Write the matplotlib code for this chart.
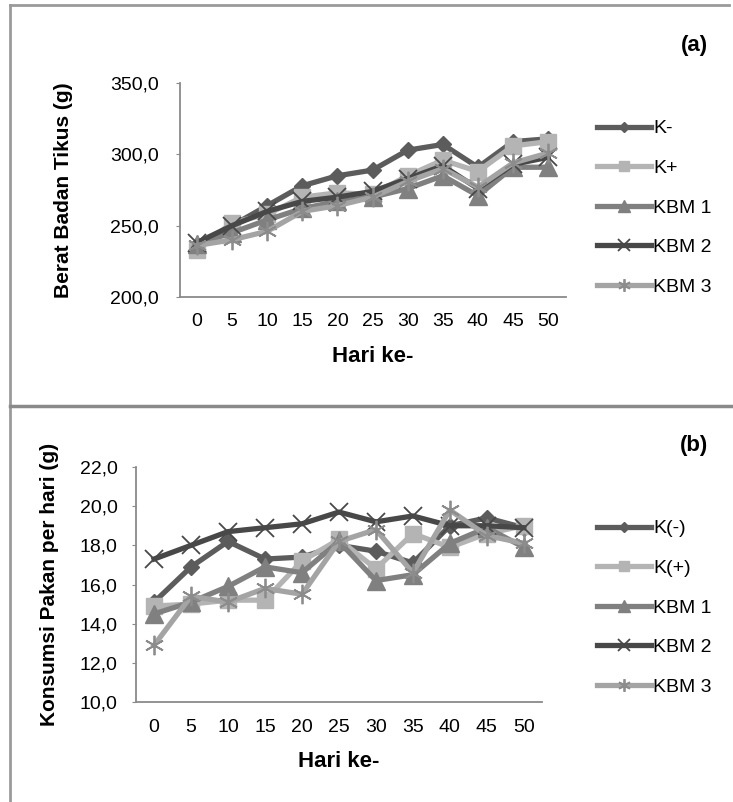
import matplotlib.pyplot as plt
from matplotlib.lines import Line2D
from matplotlib.ticker import FuncFormatter

plt.rcParams['font.family'] = ['Liberation Sans', 'DejaVu Sans']

hari = [0, 5, 10, 15, 20, 25, 30, 35, 40, 45, 50]

# (a) berat badan tikus (g)
bb_k_min = [236, 250, 264, 278, 285, 289, 303, 307, 291, 309, 311]
bb_k_plus = [233, 252, 258, 270, 273, 272, 285, 296, 288, 306, 309]
bb_kbm1 = [237, 245, 254, 262, 267, 270, 276, 285, 271, 291, 291]
bb_kbm2 = [238, 250, 260, 267, 270, 274, 283, 292, 276, 293, 298]
bb_kbm3 = [236, 240, 246, 260, 264, 270, 281, 290, 277, 294, 301]

# (b) konsumsi pakan per hari (g)
kp_k_min = [15.1, 16.9, 18.2, 17.3, 17.4, 18.0, 17.7, 17.1, 19.0, 19.4, 18.9]
kp_k_plus = [14.9, 15.0, 15.2, 15.2, 17.2, 18.3, 16.8, 18.6, 17.9, 18.6, 19.0]
kp_kbm1 = [14.5, 15.1, 15.9, 16.9, 16.6, 18.2, 16.2, 16.5, 18.1, 18.9, 17.9]
kp_kbm2 = [17.3, 18.0, 18.7, 18.9, 19.1, 19.7, 19.2, 19.5, 19.0, 19.0, 18.9]
kp_kbm3 = [12.9, 15.4, 15.1, 15.8, 15.5, 18.2, 18.8, 16.6, 19.8, 18.5, 18.1]

labels_a = ['K-', 'K+', 'KBM 1', 'KBM 2', 'KBM 3']
labels_b = ['K(-)', 'K(+)', 'KBM 1', 'KBM 2', 'KBM 3']

styles = [
    dict(color='#5c5c5c', marker='D', ms=8, mfc='#5c5c5c', mec='#5c5c5c'),
    dict(color='#b4b4b4', marker='s', ms=11, mfc='#b4b4b4', mec='#b4b4b4'),
    dict(color='#808080', marker='^', ms=13, mfc='#808080', mec='#808080'),
    dict(color='#484848', marker='x', ms=13, mew=1.3, mec='#484848'),
    dict(color='#a4a4a4', marker=(6, 2, 0), ms=14, mew=1.3, mec='#8c8c8c'),
]

W, H = 733, 802
fig = plt.figure(figsize=(W / 100, H / 100), dpi=100)

# panel borders
fig.add_artist(Line2D([9.5 / W, 9.5 / W], [0, 1 - 4.5 / H], color='#9a9a9a', lw=2))
fig.add_artist(Line2D([9.5 / W, 729 / W], [1 - 4.5 / H, 1 - 4.5 / H], color='#9a9a9a', lw=2))
fig.add_artist(Line2D([9.5 / W, 1], [1 - 405.5 / H, 1 - 405.5 / H], color='#8a8a8a', lw=2.5))

fmt = FuncFormatter(lambda v, p: ('%.1f' % v).replace('.', ','))


def draw_panel(box, series, labels, ylim, yticks, ylabel, ylab_x, xlab_y,
               tag, tag_y, leg_y, ypad):
    x0, y0, x1, y1 = box  # pixel box: left, top, right, bottom
    ax = fig.add_axes([x0 / W, 1 - y1 / H, (x1 - x0) / W, (y1 - y0) / H])
    x = range(len(hari))
    for vals, st, lab in zip(series, styles, labels):
        ax.plot(x, vals, lw=3.8, label=lab, **st)
    ax.set_xlim(-0.5, len(hari) - 0.5)
    ax.set_ylim(*ylim)
    ax.set_yticks(yticks)
    ax.yaxis.set_major_formatter(fmt)
    ax.set_xticks(list(x))
    ax.set_xticklabels([str(h) for h in hari])
    for s in ['top', 'right']:
        ax.spines[s].set_visible(False)
    for s in ['left', 'bottom']:
        ax.spines[s].set_color('#8a8a8a')
        ax.spines[s].set_linewidth(1.3)
    ax.tick_params(axis='y', length=3, color='#8a8a8a', labelsize=14, pad=ypad)
    ax.tick_params(axis='x', length=0, labelsize=14, pad=12)
    ax.set_ylabel(ylabel, fontsize=15, fontweight='bold')
    ax.yaxis.set_label_coords((ylab_x - x0) / (x1 - x0), 0.5)
    ax.set_xlabel('Hari ke-', fontsize=16, fontweight='bold')
    ax.xaxis.set_label_coords(0.5, (y1 - xlab_y) / (y1 - y0))
    fig.text(708 / W, 1 - tag_y / H, tag, fontsize=16, fontweight='bold',
             ha='right', va='center')
    ax.legend(loc='upper left', bbox_to_anchor=(589 / W, 1 - leg_y / H),
              bbox_transform=fig.transFigure, frameon=False, fontsize=14,
              handlelength=2.8, handletextpad=0.1, labelspacing=1.13,
              borderaxespad=0, markerscale=0.65)
    return ax


draw_panel((179.5, 83.3, 565.7, 296.7),
           [bb_k_min, bb_k_plus, bb_kbm1, bb_kbm2, bb_kbm3], labels_a,
           (200, 350), [200, 250, 300, 350], 'Berat Badan Tikus (g)',
           73, 346, '(a)', 45, 112, 12)

draw_panel((135.6, 467, 542.3, 702),
           [kp_k_min, kp_k_plus, kp_kbm1, kp_kbm2, kp_kbm3], labels_b,
           (10, 22), [10, 12, 14, 16, 18, 20, 22], 'Konsumsi Pakan per hari (g)',
           59, 751, '(b)', 445, 512, 10)

fig.savefig('out.png', dpi=100)
